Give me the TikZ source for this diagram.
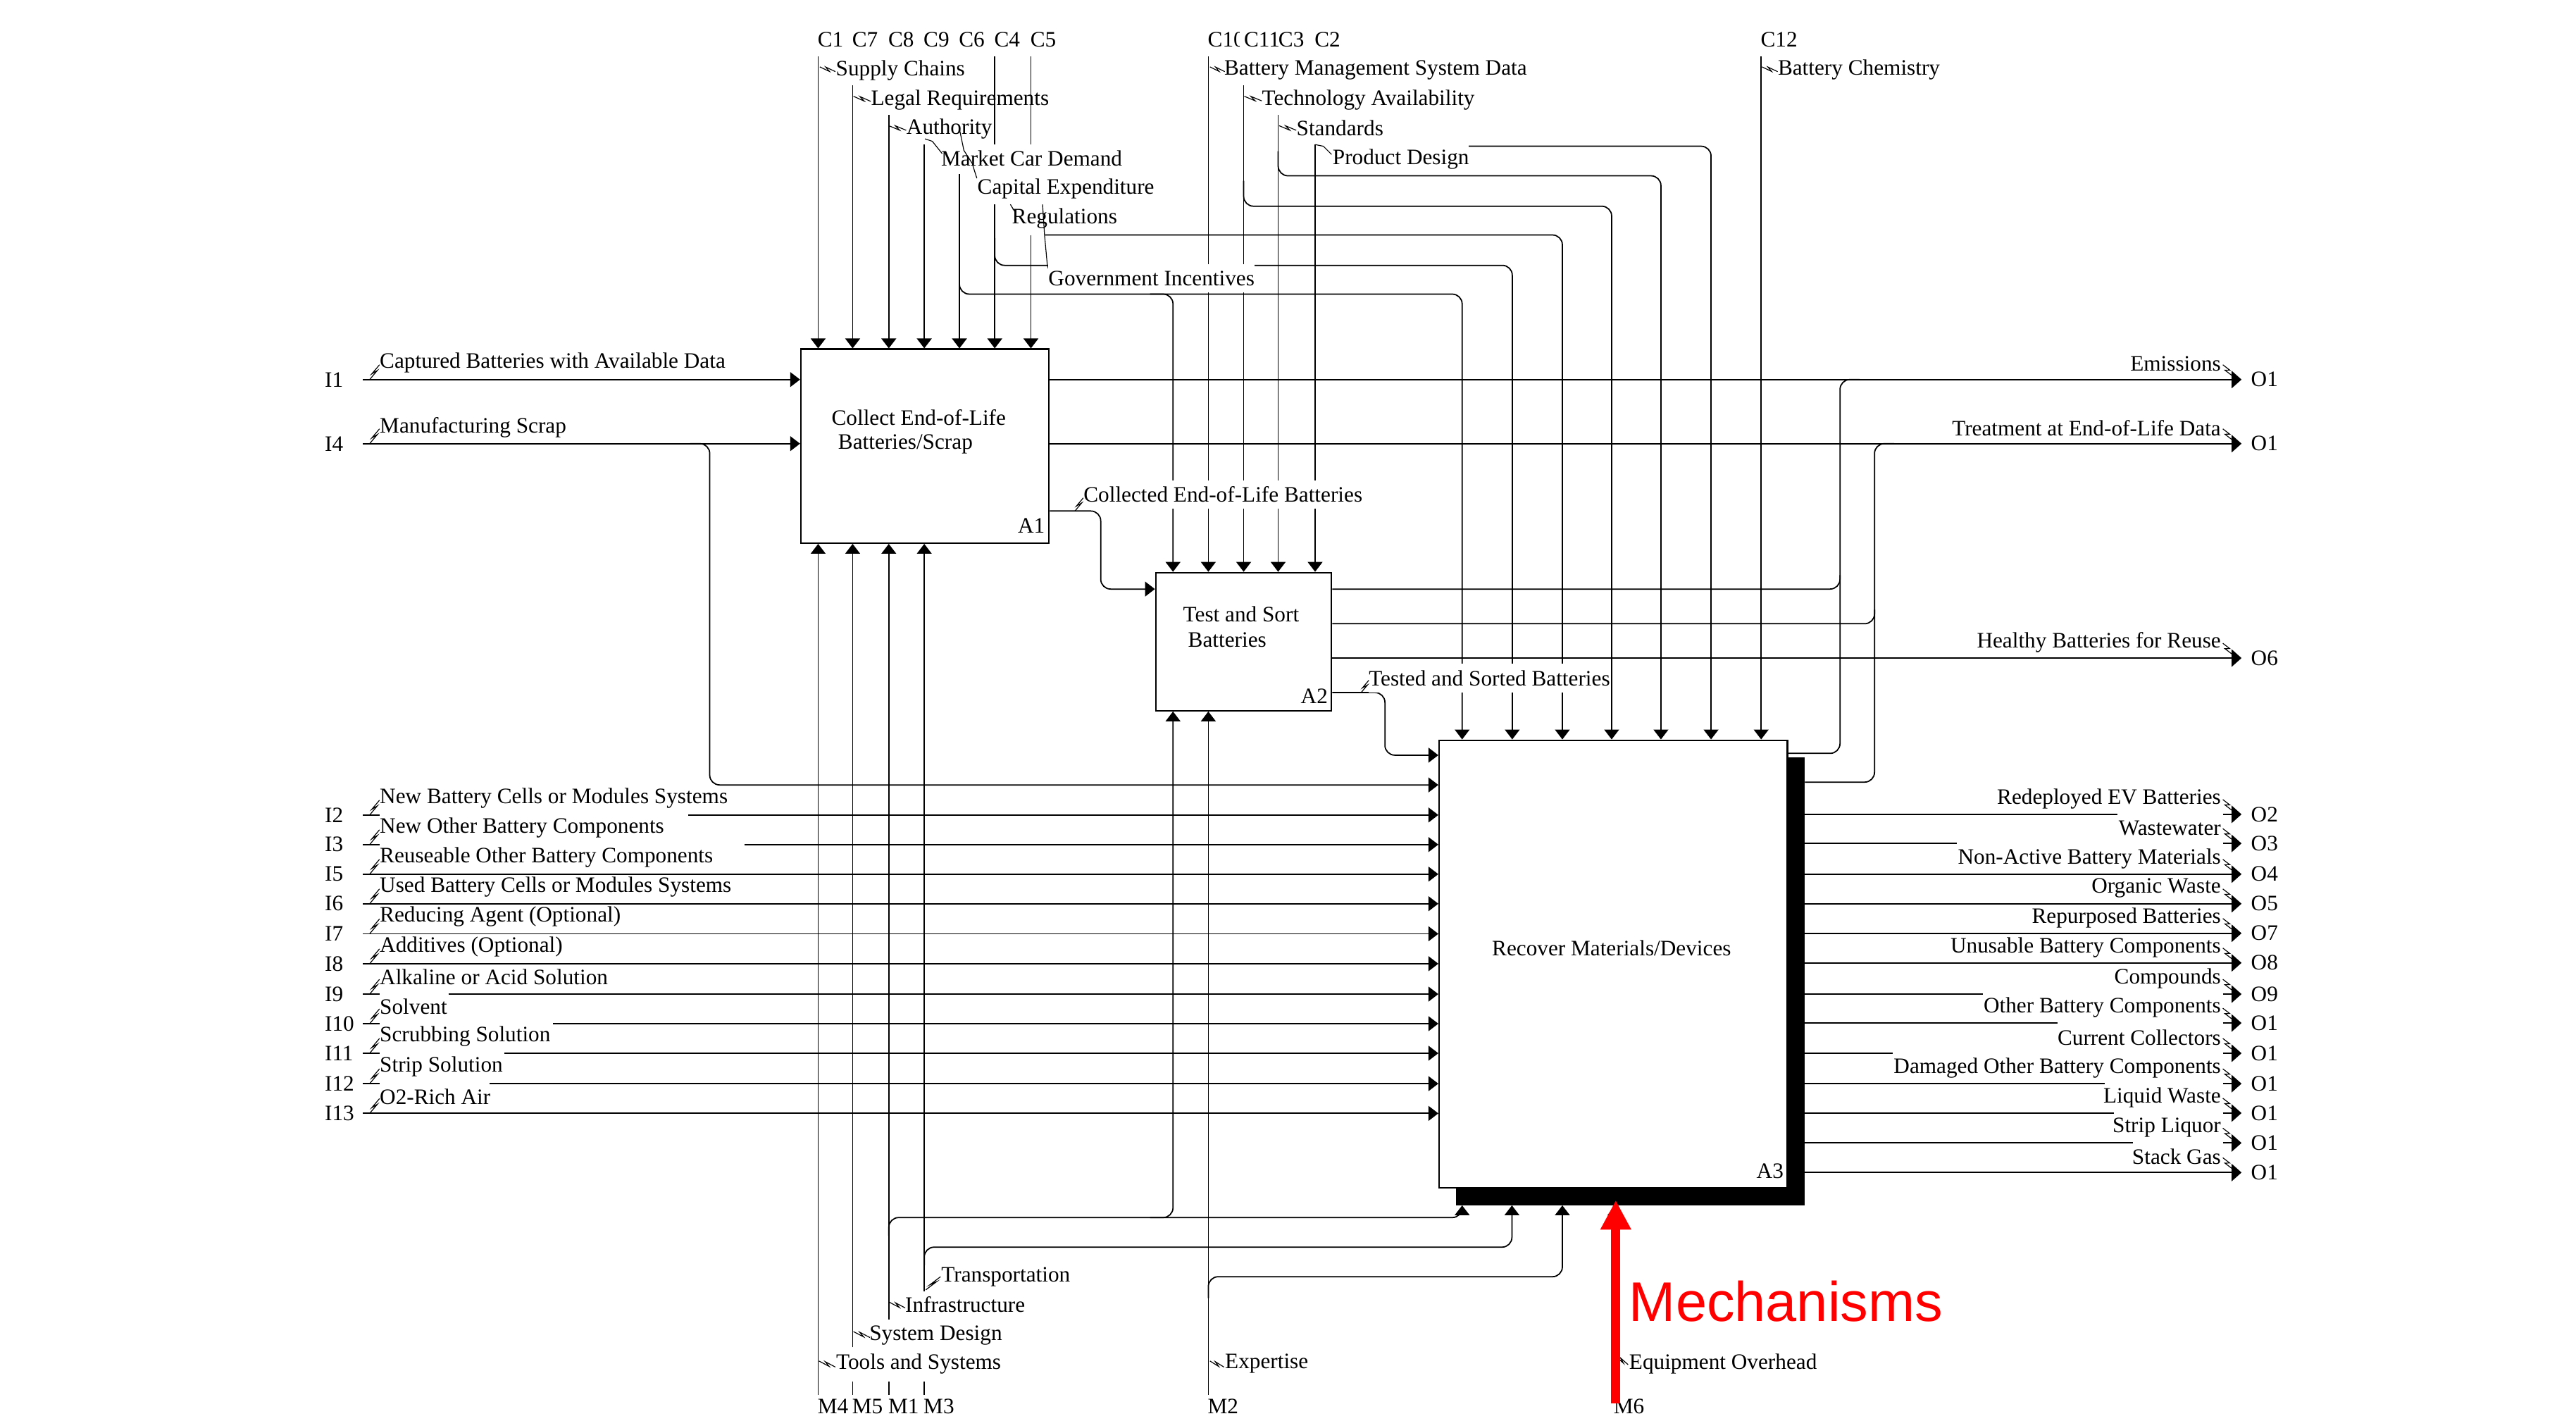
\documentclass[tikz,border=0pt]{standalone}
\usepackage{fontspec}
\setmainfont{Liberation Serif}
\newfontfamily\arialfont{Liberation Sans}
\usetikzlibrary{arrows.meta,calc}
\tikzset{
  ln/.style={line width=0.75pt},
  arr/.style={ln,-{Triangle[length=6pt,width=9pt]}},
  oarr/.style={ln,-{Triangle[length=6pt,width=10.5pt]}},
  rc/.style={rounded corners=6pt},
  box/.style={draw,line width=1pt,fill=white,inner sep=0pt},
  txt/.style={font=\fontsize{13.4}{15}\selectfont,inner sep=0pt},
  ltxt/.style={txt,anchor=west},
  rtxt/.style={txt,anchor=east},
  cover/.style={ltxt,fill=white,minimum height=17.2pt},
  leader/.style={line width=0.5pt},
}
\newcommand{\idefzig}[3]{\draw[leader] #1 -- ($#1!0.62!#2+#3$) -- ($#1!0.38!#2-#3$) -- #2;}
\begin{document}
\begin{tikzpicture}[x=1pt,y=-1pt]
\path[use as bounding box,fill=white] (0,0) rectangle (1568,864.4);

% ---------- boxes ----------
\node[box,minimum width=151pt,minimum height=118pt,anchor=north west] (A1) at (487,212) {};
\node[box,minimum width=107pt,minimum height=84pt,anchor=north west] (A2) at (703,348) {};
\node[fill=black,inner sep=0pt,minimum width=212pt,minimum height=272.5pt,anchor=north west] (A3s) at (886.2,460.7) {};
\node[box,minimum width=212pt,minimum height=272.5pt,anchor=north west] (A3) at (875.5,450) {};

\node[ltxt] (t1a) at (506,254) {Collect End-of-Life};
\node[ltxt] (t1b) at (510,270.5) {Batteries/Scrap};
\node[ltxt] (n1) at (619.4,320) {A1};
\node[ltxt] (t2a) at (720,374) {Test and Sort};
\node[ltxt] (t2b) at (723,389.5) {Batteries};
\node[ltxt] (n2) at (791.6,423.8) {A2};
\node[ltxt] (t3) at (908,577) {Recover Materials/Devices};
\node[ltxt] (n3) at (1069,712.6) {A3};

% ---------- controls of A1 ----------
\foreach \x/\y in {498/34.5, 519/52, 541/70, 562.6/88, 584/106}
  \draw[arr] (\x,\y) -- (\x,0 |- A1.north);
\draw[ln] (605.5,34.5) -- (605.5,88);
\draw[arr] (605.5,124.4) -- (605.5,0 |- A1.north);
\draw[ln] (627.5,34.5) -- (627.5,88);
\draw[arr] (627.5,143) -- (627.5,0 |- A1.north);

% branches to A2 / A3
\draw[arr,rc] (584,160) |- (890,179) -- (890,0 |- A3.north);
\draw[arr,rc] (700,179) -| (714,0 |- A2.north);
\draw[arr,rc] (605.5,145) |- (920.5,161.5) -- (920.5,0 |- A3.north);
\draw[arr,rc] (636,143) -| (951,0 |- A3.north);

% ---------- controls of A2 / A3 ----------
\draw[arr] (735.5,34.5) -- (735.5,0 |- A2.north);
\draw[arr] (757,52) -- (757,0 |- A2.north);
\draw[arr] (778,70) -- (778,0 |- A2.north);
\draw[arr] (800.5,88) -- (800.5,0 |- A2.north);
\draw[arr,rc] (757,110) |- (981,125.5) -- (981,0 |- A3.north);
\draw[arr,rc] (778,92) |- (1011,107) -- (1011,0 |- A3.north);
\draw[arr,rc] (894,89) -| (1041.5,0 |- A3.north);
\draw[arr] (1072,34.5) -- (1072,0 |- A3.north);

% control codes
\foreach \x/\c in {497.5/C1, 518.5/C7, 540.5/C8, 562/C9, 583.5/C6, 605/C4, 627/C5}
  \node[ltxt] at (\x,24) {\c};
\node[ltxt] (c10) at (735,24) {C10};
\node[ltxt,fill=white,inner xsep=2.5pt] (c11) at (754.5,24) {C11};
\node[ltxt,fill=white] (c3) at (778,24) {C3};
\node[ltxt] (c2) at (800,24) {C2};
\node[ltxt] (c12) at (1071.5,24) {C12};

% control labels
\node[ltxt] (l1) at (508.6,42.9) {Supply Chains};
\idefzig{(499,40.7)}{(508.5,43.6)}{(0,1)}
\node[ltxt] (l2) at (530,60.8) {Legal Requirements};
\idefzig{(519.5,58.6)}{(530,61.7)}{(0,1)}
\node[ltxt] (l3) at (551.6,78.3) {Authority};
\idefzig{(541,76.5)}{(551.6,79.3)}{(0,1)}
\node[ltxt] (l4) at (572.7,96.5) {Market Car Demand};
\draw[leader] (563,84.5) -- (567.5,86) -- (573.5,93.5);
\node[ltxt] (l5) at (594.8,115) {Capital Expenditure};
\draw[leader] (584,78.5) -- (586.7,91.5) -- (591.7,99.3) -- (594.6,108.5);
\node[ltxt] (l6) at (615.8,133) {Regulations};
\draw[leader] (615,124.4) -- (617.5,128.5);
\draw[leader] (634.6,124.4) -- (635.8,143) -- (637.5,161.5) -- (639,166);
\node[cover] (l7) at (638,169.5) {Government Incentives};

\node[ltxt] (l8) at (745,42.6) {Battery Management System Data};
\idefzig{(736.5,40.7)}{(745.5,43.6)}{(0,1)}
\node[ltxt] (l9) at (768,60.8) {Technology Availability};
\idefzig{(757.4,58.6)}{(768,61.4)}{(0,1)}
\node[ltxt] (l10) at (789,78) {Standards};
\idefzig{(778.6,76.5)}{(789,79.3)}{(0,1)}
\node[ltxt] (l11) at (811,97) {Product Design};
\draw[leader] (800.6,88) -- (805.5,89) -- (810.5,94);
\node[ltxt] (l12) at (1082,42.6) {Battery Chemistry};
\idefzig{(1072.5,40.7)}{(1082,43.6)}{(0,1)}

% ---------- inputs of A1 ----------
\draw[arr] (221,231) -- (A1.west |- 0,231);
\draw[arr] (221,270) -- (A1.west |- 0,270);
\draw[arr,rc] (420,270) -| (432,477.7) -- (A3.west |- 0,477.7);
\node[ltxt] (i1) at (197.5,231) {I1};
\node[ltxt] (i4) at (197.5,270) {I4};
\node[ltxt] (li1) at (231,221) {Captured Batteries with Available Data};
\idefzig{(225,231)}{(231,222)}{(1,0)}
\node[ltxt] (li4) at (231,260) {Manufacturing Scrap};
\idefzig{(225,270)}{(231,261)}{(1,0)}

% ---------- A1 -> A2 -> A3 ----------
\draw[arr,rc] (A1.east |- 0,311) -| (670,358.5) -- (A2.west |- 0,358.5);
\node[cover] (lc) at (659.4,301) {Collected End-of-Life Batteries};
\idefzig{(654.3,311)}{(659.4,303)}{(1,0)}

\draw[arr,rc] (A2.east |- 0,421.5) -| (843,459.6) -- (A3.west |- 0,459.6);
\node[cover] (lt) at (833,412.7) {Tested and Sorted Batteries};
\idefzig{(828.5,421.5)}{(833.2,414)}{(1,0)}

% ---------- upper outputs ----------
\draw[oarr] (A1.east |- 0,231) -- (1364.4,231);
\draw[oarr] (A1.east |- 0,270) -- (1364.4,270);
\draw[ln,rc] (A2.east |- 0,358.5) -| (1120,231) -- (1132,231);
\draw[ln,rc] (A2.east |- 0,379.6) -| (1141,270) -- (1153,270);
\draw[oarr] (A2.east |- 0,400.5) -- (1364.4,400.5);
\draw[ln,rc] (A3.east |- 0,458.5) -| (1120,350);
\draw[ln,rc] (A3s.east |- 0,476) -| (1141,371);

\foreach \y/\t/\o in {231/Emissions/O1, 270/Treatment at End-of-Life Data/O1, 400.5/Healthy Batteries for Reuse/O6}{
  \node[rtxt] at (1352,\y-9.5) {\t};
  \node[ltxt] at (1370,\y) {\o};
  \idefzig{(1353,\y-9)}{(1358.5,\y-2.5)}{(0.8,-0.8)}
}

% ---------- inputs of A3 ----------
\foreach \y/\g in {496/419, 514/453, 605/273, 623/336.6, 641/307, 659.5/298}{
  \draw[ln] (221,\y) -- (231,\y);
  \draw[arr] (\g,\y) -- (A3.west |- 0,\y);
}
\foreach \y in {532, 550, 568.3, 586.5, 677.6}
  \draw[arr] (221,\y) -- (A3.west |- 0,\y);
\foreach \y/\c/\t in {496/I2/New Battery Cells or Modules Systems, 514/I3/New Other Battery Components,
  532/I5/Reuseable Other Battery Components, 550/I6/Used Battery Cells or Modules Systems,
  568.3/I7/Reducing Agent (Optional), 586.5/I8/Additives (Optional), 605/I9/Alkaline or Acid Solution,
  623/I10/Solvent, 641/I11/Scrubbing Solution, 659.5/I12/Strip Solution, 677.6/I13/O2-Rich Air}{
  \node[ltxt] at (197.5,\y) {\c};
  \node[ltxt] at (231,\y-10.3) {\t};
  \idefzig{(225,\y)}{(231,\y-9)}{(1,0)}
}

% ---------- outputs of A3 ----------
\foreach \y/\g in {495.6/1289, 513.3/1191, 605/1207, 622.6/1252.6, 641/1152, 659.5/1281, 677.4/1286.6, 695.6/1298.5}{
  \draw[ln] (A3s.east |- 0,\y) -- (\g,\y);
  \draw[oarr] (1353,\y) -- (1364.4,\y);
}
\foreach \y in {532, 550, 568, 586, 713.6}
  \draw[oarr] (A3s.east |- 0,\y) -- (1364.4,\y);
\foreach \y/\t/\o in {495.6/Redeployed EV Batteries/O2, 513.3/Wastewater/O3, 532/Non-Active Battery Materials/O4,
  550/Organic Waste/O5, 568/Repurposed Batteries/O7, 586/Unusable Battery Components/O8, 605/Compounds/O9,
  622.6/Other Battery Components/O1, 641/Current Collectors/O1, 659.5/Damaged Other Battery Components/O1,
  677.4/Liquid Waste/O1, 695.6/Strip Liquor/O1, 713.6/Stack Gas/O1}{
  \node[rtxt] at (1352,\y-9.5) {\t};
  \node[ltxt] at (1370,\y) {\o};
  \idefzig{(1353,\y-9)}{(1358.5,\y-2.5)}{(0.8,-0.8)}
}

% ---------- mechanisms ----------
\draw[arr] (498,849) -- (498,0 |- A1.south);
\draw[ln] (519,841) -- (519,849);
\draw[arr] (519,820) -- (519,0 |- A1.south);
\draw[ln] (541,841) -- (541,849);
\draw[arr] (541,803) -- (541,0 |- A1.south);
\draw[ln] (562.6,841) -- (562.6,849);
\draw[arr] (562.6,786) -- (562.6,0 |- A1.south);
\draw[arr] (735.5,849) -- (735.5,0 |- A2.south);
\draw[arr,rc] (541,752) |- (890,741) -- (890,0 |- A3s.south);
\draw[arr,rc] (700,741) -| (714,0 |- A2.south);
\draw[arr,rc] (562.6,770) |- (920.3,759) -- (920.3,0 |- A3s.south);
\draw[arr,rc] (735.5,790) |- (951,777) -- (951,0 |- A3s.south);
\draw[arr] (983,849) -- (983,0 |- A3s.south);

\foreach \x/\c in {497.5/M4, 518.5/M5, 540.5/M1, 562/M3, 735/M2, 982/M6}
  \node[ltxt] at (\x,856) {\c};
\node[ltxt] (m1) at (508.8,830) {Tools and Systems};
\idefzig{(498.5,828.3)}{(508.5,832)}{(0,1)}
\node[ltxt] (m2) at (529,812.6) {System Design};
\idefzig{(519.5,810.4)}{(529.5,814)}{(0,1)}
\node[ltxt] (m3) at (550.8,794) {Infrastructure};
\idefzig{(541.5,792.6)}{(551,796)}{(0,1)}
\node[ltxt] (m4) at (572.8,777) {Transportation};
\idefzig{(563.5,785)}{(572.5,777)}{(1,0)}
\node[ltxt] (m5) at (745.5,830) {Expertise};
\idefzig{(736.5,828.3)}{(745,832)}{(0,1)}
\node[ltxt] (m6) at (991.5,830) {Equipment Overhead};
\idefzig{(983.5,825.5)}{(991,830.5)}{(0,1)}

% ---------- red annotation ----------
\draw[red,line width=5.7pt,-{Triangle[length=18pt,width=17.6pt]}] (983.5,854) -- (983.5,730.4);
\node[anchor=base west,inner sep=0pt,text=red,font=\arialfont\fontsize{34}{40}\selectfont] (mech) at (991.5,804) {Mechanisms};
\end{tikzpicture}
\end{document}
